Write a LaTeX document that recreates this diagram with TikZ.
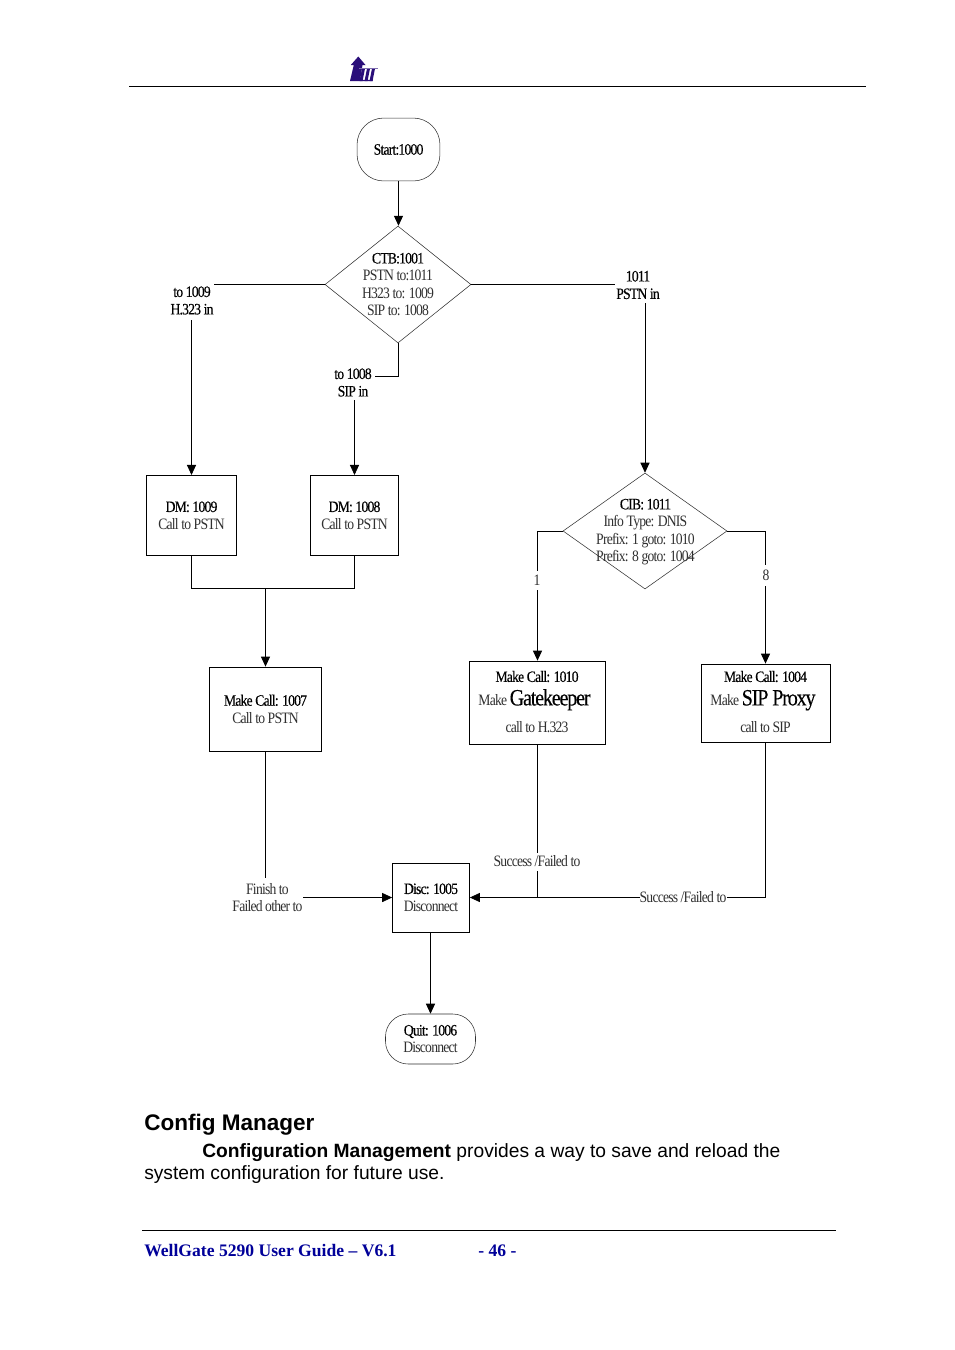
\documentclass[tikz,border=0pt]{standalone}
\usepackage{fontspec}
\usetikzlibrary{shapes.geometric,arrows.meta}
\setmainfont{Liberation Serif}
\newfontfamily\flowfont{Liberation Serif}[FakeStretch=0.86,LetterSpace=-5]
\newfontfamily\flowheadfont{Liberation Serif}[FakeStretch=0.86,LetterSpace=-5,FakeBold=0.25]
\newfontfamily\bodyfont{Liberation Sans}
\definecolor{thin}{HTML}{303030}
\definecolor{logoblue}{HTML}{2A0E7A}
\definecolor{footblue}{HTML}{000099}
\newcommand{\hd}[1]{{\flowheadfont\color{black}#1}}
\tikzset{
  x=0.75pt,y=-0.75pt,
  flow/.style={font=\flowfont\fontsize{11.9}{13.1}\selectfont,text=thin,align=center,inner sep=0pt},
  boxn/.style={flow,draw=black,line width=0.6pt,rectangle,fill=white},
  termn/.style={flow,draw=thin,line width=0.4pt,rectangle,rounded corners=20pt,fill=white},
  dia/.style={diamond,draw=thin,line width=0.4pt,inner sep=0pt,shape aspect=#1},
  conn/.style={draw=black,line width=0.6pt},
  arr/.style={conn,-{Triangle[length=7.5pt,width=6.8pt]}},
  rule/.style={draw=black,line width=0.6pt}
}
\begin{document}
\begin{tikzpicture}
\useasboundingbox (0,0) rectangle (954,1350);
\fill[white] (0,0) rectangle (954,1350);

% header
\coordinate (hl) at (129,86); \coordinate (hr) at (866,86);
\draw[rule] (hl) -- (hr);
\fill[logoblue] (358.3,56.5) -- (365.5,65) -- (362.5,65) -- (361,74) -- (360,81) -- (350,81) -- (353.8,65) -- (350.8,65) -- cycle;
\fill[logoblue] (362,68.5) -- (365,68.5) -- (362.5,81) -- (359.5,81) -- cycle;
\fill[logoblue] (367,68.5) -- (370,68.5) -- (367.5,81) -- (364.5,81) -- cycle;
\fill[logoblue] (372,68.5) -- (375,68.5) -- (372.5,81) -- (369.5,81) -- cycle;
\fill[logoblue!60] (359,67.6) rectangle (378,68.6);
\fill[logoblue] (360,79.8) -- (373,79.8) -- (372.5,81) -- (360,81) -- cycle;

% nodes
\node[termn,minimum width=62.2pt,minimum height=47.2pt] (start) at (398.5,149.5) {\hd{Start:1000}};
\node[dia=1.25,minimum width=109.5pt,minimum height=87.7pt] (ctb) at (398,284.5) {};
\node[flow] (ctbt) at (398,284.5) {\hd{CTB:1001}\\PSTN to:1011\\H323 to: 1009\\SIP to: 1008};
\node[boxn,minimum width=67.6pt,minimum height=60.2pt] (dm9) at (191.5,515.5) {\hd{DM: 1009}\\Call to PSTN};
\node[boxn,minimum width=66.2pt,minimum height=60.2pt] (dm8) at (354.5,515.5) {\hd{DM: 1008}\\Call to PSTN};
\node[dia=1.41,minimum width=123pt,minimum height=87pt] (cib) at (645,531) {};
\node[flow] (cibt) at (645.5,532) {\hd{CIB: 1011}\\Info Type: DNIS\\Prefix: 1 goto: 1010\\Prefix: 8 goto: 1004};
\node[boxn,minimum width=84pt,minimum height=63pt] (mc7) at (265.5,709) {\hd{Make Call: 1007}\\Call to PSTN};
\node[boxn,minimum width=102pt,minimum height=62.2pt] (mc10) at (537,702.5) {};
\node[flow] (mc10t) at (537,702) {\hd{Make Call: 1010}\\[4.5pt]Make {\flowheadfont\color{black}\fontsize{17.5}{17.5}\selectfont Gatekeeper}\hspace{3.75pt}\mbox{}\\[7.5pt]call to H.323};
\node[boxn,minimum width=96.7pt,minimum height=58.5pt] (mc4) at (765.5,703) {};
\node[flow] (mc4t) at (765.5,702) {\hd{Make Call: 1004}\\[4.5pt]Make {\flowheadfont\color{black}\fontsize{17.5}{17.5}\selectfont SIP Proxy}\hspace{3.75pt}\mbox{}\\[7.5pt]call to SIP};
\node[boxn,minimum width=57.7pt,minimum height=51.7pt] (disc) at (431,897.5) {\hd{Disc: 1005}\\Disconnect};
\node[termn,rounded corners=17pt,minimum width=67.5pt,minimum height=37.5pt] (quit) at (430.5,1039) {\hd{Quit: 1006}\\Disconnect};

% connector labels
\node[flow] (l9) at (192,300.5) {\hd{to 1009}\\\hd{H.323 in}};
\node[flow] (l8) at (353,382.5) {\hd{to 1008}\\\hd{SIP in}};
\node[flow] (l11) at (638,285) {\hd{1011}\\\hd{PSTN in}};
\node[flow] (l1) at (537,580) {1};
\node[flow] (l88) at (766,575) {8};
\node[flow] (lf) at (267.5,897.5) {Finish to\\Failed other to};
\node[flow] (ls1) at (537,861) {Success /Failed to};
\node[flow] (ls2) at (683,897) {Success /Failed to};

% waypoints
\coordinate (l9a) at (214,284.5);
\coordinate (l9b) at (191.5,320);
\coordinate (l8a) at (398,376);
\coordinate (l8b) at (375,376);
\coordinate (l8c) at (354.5,400);
\coordinate (l11a) at (615,284.5);
\coordinate (l11b) at (645,303);
\coordinate (cl) at (537.5,531);
\coordinate (cla) at (537.5,571);
\coordinate (clb) at (537.5,590);
\coordinate (cr) at (765.5,531);
\coordinate (cra) at (765.5,565);
\coordinate (crb) at (765.5,586);
\coordinate (j) at (265.5,588.5);
\coordinate (j9) at (191.5,588.5);
\coordinate (j8) at (354.5,588.5);
\coordinate (a7) at (265.5,878);
\coordinate (fa) at (303,897.5);
\coordinate (s1a) at (537.5,853);
\coordinate (s1b) at (537.5,871);
\coordinate (s1c) at (537.5,897.5);
\coordinate (s2a) at (765.5,897.5);
\coordinate (s2b) at (727,897.5);
\coordinate (s2c) at (640,897.5);

% connectors
\draw[arr] (start.south) -- (start.south |- ctb.north);
\draw[conn] (ctb.west) -- (l9a);
\draw[arr] (l9b) -- (dm9.north);
\draw[conn] (ctb.south) -- (l8a) -- (l8b);
\draw[arr] (l8c) -- (dm8.north);
\draw[conn] (ctb.east) -- (l11a);
\draw[arr] (l11b) -- (cib.north);
\draw[conn] (cib.west) -- (cl) -- (cla);
\draw[arr] (clb) -- (clb |- mc10.north);
\draw[conn] (cib.east) -- (cr) -- (cra);
\draw[arr] (crb) -- (mc4.north);
\draw[conn] (dm9.south) -- (j9) -- (j8) -- (dm8.south);
\draw[arr] (j) -- (mc7.north);
\draw[conn] (mc7.south) -- (a7);
\draw[arr] (fa) -- (disc.west);
\draw[conn] (s1a |- mc10.south) -- (s1a);
\draw[conn] (s1b) -- (s1c);
\draw[conn] (mc4.south) -- (s2a) -- (s2b);
\draw[arr] (s2c) -- (disc.east);
\draw[arr] (disc.south -| quit.north) -- (quit.north);

% body text
\node[anchor=base west,inner sep=0pt,font=\bodyfont\bfseries\fontsize{16.9}{20}\selectfont] (cm) at (144,1130) {Config Manager};
\node[anchor=base west,inner sep=0pt,font=\bodyfont\fontsize{14.42}{16}\selectfont] (p1) at (202,1157) {\textbf{Configuration Management} provides a way to save and reload the};
\node[anchor=base west,inner sep=0pt,font=\bodyfont\fontsize{14.42}{16}\selectfont] (p2) at (144,1179) {system configuration for future use.};

% footer
\coordinate (fl) at (142,1230.5); \coordinate (fr) at (836,1230.5);
\draw[rule] (fl) -- (fr);
\node[anchor=base west,inner sep=0pt,text=footblue,font=\bfseries\fontsize{13.2}{16}\selectfont] (f1) at (144,1256) {WellGate 5290 User Guide – V6.1};
\node[anchor=base west,inner sep=0pt,text=footblue,font=\bfseries\fontsize{13.2}{16}\selectfont] (f2) at (478,1256) {- 46 -};
\end{tikzpicture}
\end{document}
